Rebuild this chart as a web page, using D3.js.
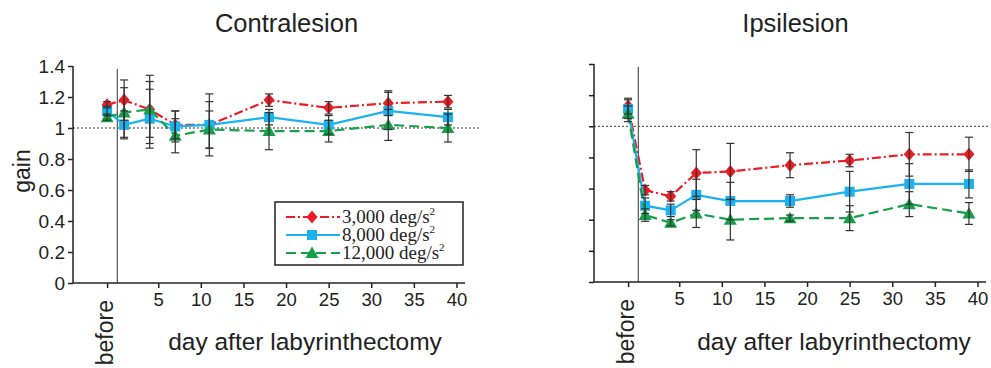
<!DOCTYPE html>
<html>
<head>
<meta charset="utf-8">
<script src="https://cdn.jsdelivr.net/npm/d3@7"></script>
<style>
  body { margin: 0; background: #fff; }
  svg text { font-family: "Liberation Sans", Arial, sans-serif; fill: #222; }
</style>
</head>
<body>
<div id="chart"></div>
<script>
// 横轴：术前 (before) 记为 -1
const days = [-1, 1, 4, 7, 11, 18, 25, 32, 39]
const xTicks = [-1, 5, 10, 15, 20, 25, 30, 35, 40]
const yTicks = [0, 0.2, 0.4, 0.6, 0.8, 1, 1.2, 1.4]
const legendLabels = ["3,000 deg/s", "8,000 deg/s", "12,000 deg/s"]

// Contralesion
const contra3000 = [1.15, 1.18, 1.12, 1.02, 1.02, 1.18, 1.13, 1.16, 1.17]
const contra3000Err = [0.02, 0.13, 0.22, 0.09, 0.15, 0.04, 0.04, 0.08, 0.04]
const contra8000 = [1.11, 1.02, 1.06, 1.01, 1.02, 1.07, 1.02, 1.11, 1.07]
const contra8000Err = [0.03, 0.09, 0.19, 0.10, 0.20, 0.05, 0.06, 0.12, 0.05]
const contra12000 = [1.07, 1.10, 1.12, 0.95, 0.99, 0.98, 0.98, 1.02, 1.00]
const contra12000Err = [0.02, 0.16, 0.18, 0.11, 0.12, 0.12, 0.07, 0.10, 0.09]

// Ipsilesion
const ipsi3000 = [1.13, 0.59, 0.55, 0.70, 0.71, 0.75, 0.78, 0.82, 0.82]
const ipsi3000Err = [0.05, 0.03, 0.03, 0.15, 0.18, 0.08, 0.04, 0.14, 0.11]
const ipsi8000 = [1.11, 0.49, 0.46, 0.56, 0.52, 0.52, 0.58, 0.63, 0.63]
const ipsi8000Err = [0.06, 0.05, 0.04, 0.10, 0.12, 0.04, 0.13, 0.13, 0.09]
const ipsi12000 = [1.08, 0.43, 0.38, 0.44, 0.40, 0.41, 0.41, 0.50, 0.44]
const ipsi12000Err = [0.05, 0.04, 0.02, 0.09, 0.13, 0.02, 0.08, 0.08, 0.07]

const seriesStyle = [
  { color: "#ec1c24", dash: "9,3,2,3", marker: "diamond" },
  { color: "#1ab2ef", dash: null, marker: "square" },
  { color: "#16a04a", dash: "10,5", marker: "triangle" }
]

const svg = d3.select("#chart").append("svg")
  .attr("width", 991)
  .attr("height", 368)

const markerPath = (type) => {
  if (type === "diamond") return "M0,-6.5L5.5,0L0,6.5L-5.5,0Z"
  if (type === "square") return "M-5,-5H5V5H-5Z"
  return "M0,-6.5L6.5,5L-6.5,5Z"
}

function drawPanel(opts) {
  const x = d3.scaleLinear().domain([-5, 41]).range([opts.left, opts.right])
  const y = d3.scaleLinear().domain([0, 1.4]).range([opts.bottom, opts.top])
  const g = svg.append("g")

  // 标题
  g.append("text")
    .attr("x", opts.titleX).attr("y", 31.5)
    .attr("text-anchor", "middle")
    .attr("font-size", 25.5)
    .text(opts.title)

  // 1.0 参考虚线
  g.append("line")
    .attr("x1", opts.left).attr("x2", opts.dotEnd)
    .attr("y1", y(1)).attr("y2", y(1))
    .attr("stroke", "#333").attr("stroke-width", 1)
    .attr("stroke-dasharray", "2,2")

  // 损伤时刻竖线
  g.append("line")
    .attr("x1", x(0.2)).attr("x2", x(0.2))
    .attr("y1", y(0)).attr("y2", y(1.38))
    .attr("stroke", "#555").attr("stroke-width", 1.2)

  // X 轴
  const xAxis = d3.axisBottom(x).tickValues(xTicks).tickSize(5).tickPadding(5)
    .tickFormat(d => d < 0 ? "" : d)
  const gx = g.append("g").attr("transform", "translate(0," + y(0) + ")").call(xAxis)
  gx.select(".domain").attr("d", "M" + opts.left + ",0H" + opts.right)
  gx.selectAll("path, line").attr("stroke", "#222").attr("stroke-width", 1.5)
  gx.selectAll("text").attr("font-size", 18.5).attr("fill", "#222")
    .attr("font-family", "Liberation Sans, Arial, sans-serif")

  g.append("text")
    .attr("transform", "translate(" + (x(-1) + 6) + "," + (y(0) + 17) + ") rotate(-90)")
    .attr("text-anchor", "end")
    .attr("font-size", 23)
    .text("before")

  g.append("text")
    .attr("x", opts.xLabelX).attr("y", 350)
    .attr("text-anchor", "middle")
    .attr("font-size", 24.5)
    .text("day after labyrinthectomy")

  // Y 轴
  const yAxis = d3.axisLeft(y).tickValues(yTicks).tickSize(5).tickPadding(3)
    .tickFormat(d => opts.yLabels ? d3.format("")(d) : "")
  const gy = g.append("g").attr("transform", "translate(" + opts.left + ",0)").call(yAxis)
  gy.select(".domain").attr("d", "M0," + y(1.4) + "V" + y(0))
  gy.selectAll("path, line").attr("stroke", "#222").attr("stroke-width", 1.5)
  gy.selectAll("text").attr("font-size", 19).attr("fill", "#222")
    .attr("font-family", "Liberation Sans, Arial, sans-serif")

  if (opts.yLabels) {
    g.append("text")
      .attr("transform", "translate(" + 30 + "," + 171 + ") rotate(-90)")
      .attr("text-anchor", "middle")
      .attr("font-size", 23)
      .text("gain")
  }

  const line = d3.line().x(d => x(d.day)).y(d => y(d.v))

  opts.series.forEach((s, i) => {
    const st = seriesStyle[i]
    const pts = days.map((d, j) => ({ day: d, v: s.values[j], e: s.errors[j] }))
    g.append("path").datum(pts)
      .attr("d", line)
      .attr("fill", "none")
      .attr("stroke", st.color)
      .attr("stroke-width", 2.2)
      .attr("stroke-dasharray", st.dash)
    g.selectAll(null).data(pts).enter().append("path")
      .attr("transform", d => "translate(" + x(d.day) + "," + y(d.v) + ")")
      .attr("d", markerPath(st.marker))
      .attr("fill", st.color)
  })

  // 误差线
  opts.series.forEach((s) => {
    const pts = days.map((d, j) => ({ day: d, v: s.values[j], e: s.errors[j] }))
    const eg = g.selectAll(null).data(pts).enter().append("g")
      .attr("stroke", "#333").attr("stroke-width", 1.2)
    eg.append("line")
      .attr("x1", d => x(d.day)).attr("x2", d => x(d.day))
      .attr("y1", d => y(d.v - d.e)).attr("y2", d => y(d.v + d.e))
    eg.append("line")
      .attr("x1", d => x(d.day) - 4).attr("x2", d => x(d.day) + 4)
      .attr("y1", d => y(d.v + d.e)).attr("y2", d => y(d.v + d.e))
    eg.append("line")
      .attr("x1", d => x(d.day) - 4).attr("x2", d => x(d.day) + 4)
      .attr("y1", d => y(d.v - d.e)).attr("y2", d => y(d.v - d.e))
  })

  return { x, y, g }
}

drawPanel({
  title: "Contralesion", titleX: 286.5,
  left: 73, right: 465, top: 66, bottom: 283, dotEnd: 480,
  xLabelX: 305, yLabels: true,
  series: [
    { values: contra3000, errors: contra3000Err },
    { values: contra8000, errors: contra8000Err },
    { values: contra12000, errors: contra12000Err }
  ]
})

drawPanel({
  title: "Ipsilesion", titleX: 795.5,
  left: 594, right: 986, top: 64, bottom: 282, dotEnd: 990,
  xLabelX: 834, yLabels: false,
  series: [
    { values: ipsi3000, errors: ipsi3000Err },
    { values: ipsi8000, errors: ipsi8000Err },
    { values: ipsi12000, errors: ipsi12000Err }
  ]
})

// 图例
const legend = svg.append("g").attr("transform", "translate(275,202)")
legend.append("rect")
  .attr("width", 188).attr("height", 63)
  .attr("fill", "#fff").attr("stroke", "#222").attr("stroke-width", 1.5)
legendLabels.forEach((lab, i) => {
  const st = seriesStyle[i]
  const yy = 15 + i * 18
  legend.append("line")
    .attr("x1", 11).attr("x2", 65).attr("y1", yy).attr("y2", yy)
    .attr("stroke", st.color).attr("stroke-width", 2)
    .attr("stroke-dasharray", st.dash)
  legend.append("path")
    .attr("transform", "translate(37," + yy + ")")
    .attr("d", markerPath(st.marker))
    .attr("fill", st.color)
  const t = legend.append("text")
    .attr("x", 67).attr("y", yy + 6)
    .attr("font-size", 19)
    .style("font-family", "Liberation Serif, Times New Roman, serif")
    .text(lab)
  t.append("tspan").attr("dy", -8).attr("font-size", 11).text("2")
})
</script>
</body>
</html>
